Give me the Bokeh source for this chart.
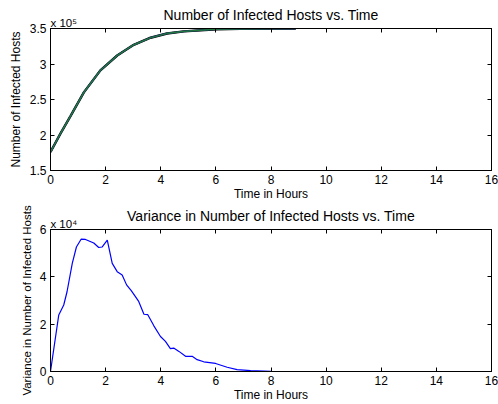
from bokeh.plotting import figure
from bokeh.layouts import column
from bokeh.models import LinearAxis, FixedTicker, Range1d, CustomJSTickFormatter
from bokeh.embed import file_html
from bokeh.resources import INLINE

# ---- data ----
t_inf = [0.0, 0.36, 0.73, 1.21, 1.81, 2.42, 3.02, 3.63, 4.23, 4.84, 6.05, 6.9, 8.9]
infected = [1.76e5, 2.02e5, 2.27e5, 2.60e5, 2.91e5, 3.12e5, 3.27e5, 3.37e5, 3.43e5,
            3.46e5, 3.49e5, 3.495e5, 3.5e5]

t_var = [0.0, 0.30, 0.48, 0.60, 0.79, 0.94, 1.11, 1.27, 1.57, 1.75, 1.87, 2.06, 2.24,
         2.42, 2.60, 2.76, 2.93, 3.20, 3.39, 3.53, 3.75, 3.99, 4.17, 4.35, 4.47, 4.66,
         4.90, 5.14, 5.32, 5.56, 5.99, 6.41, 6.77, 7.26, 8.0, 9.0, 16.0]
variance = [0.0, 2.39e4, 2.81e4, 3.37e4, 4.57e4, 5.26e4, 5.59e4, 5.58e4, 5.43e4, 5.24e4,
            5.26e4, 5.55e4, 4.57e4, 4.22e4, 4.08e4, 3.66e4, 3.42e4, 2.96e4, 2.42e4,
            2.40e4, 1.93e4, 1.48e4, 1.27e4, 0.97e4, 0.99e4, 0.85e4, 0.64e4, 0.64e4,
            0.50e4, 0.41e4, 0.34e4, 0.18e4, 0.08e4, 0.04e4, 0.01e4, 0.0, 0.0]

x_ticks = [0, 2, 4, 6, 8, 10, 12, 14, 16]
y1_ticks = [1.5e5, 2.0e5, 2.5e5, 3.0e5, 3.5e5]
y1_labels = ["1.5", "2", "2.5", "3", "3.5"]
y1_exp = "x 10\u2075"
y2_ticks = [0, 2e4, 4e4, 6e4]
y2_labels = ["0", "2", "4", "6"]
y2_exp = "x 10\u2074"

FONT = "Liberation Sans"


def style(p, yt, yl, ylabel, title, ylabel_size, exp_text):
    p.title.visible = False
    p.xgrid.visible = False
    p.ygrid.visible = False
    p.outline_line_color = "black"
    p.outline_line_width = 1
    p.background_fill_color = "white"
    p.border_fill_color = "white"

    xa = p.xaxis[0]
    xa.ticker = FixedTicker(ticks=x_ticks)
    xa.axis_label = "Time in Hours"
    ya = p.yaxis[0]
    ya.ticker = FixedTicker(ticks=yt)
    ya.major_label_overrides = {v: s for v, s in zip(yt, yl)}
    ya.axis_label = ylabel
    for ax in (xa, ya):
        ax.axis_label_text_font = FONT
        ax.axis_label_text_font_size = "12px"
        ax.axis_label_text_font_style = "normal"
        ax.axis_label_text_color = "black"
        ax.major_label_text_font = FONT
        ax.major_label_text_font_size = "12px"
        ax.major_label_text_color = "black"
        ax.major_tick_in = 4
        ax.major_tick_out = 0
        ax.minor_tick_in = 0
        ax.minor_tick_out = 0
        ax.major_tick_line_color = "black"
        ax.axis_line_color = "black"
        ax.major_label_standoff = 4
    ya.axis_label_text_font_size = ylabel_size
    xa.axis_label_standoff = 0
    ya.axis_label_standoff = 4

    top = LinearAxis(ticker=FixedTicker(ticks=x_ticks),
                     formatter=CustomJSTickFormatter(code="return ''"))
    right = LinearAxis(ticker=FixedTicker(ticks=yt),
                       formatter=CustomJSTickFormatter(code="return ''"))
    for ax in (top, right):
        ax.major_label_standoff = 0
        ax.major_tick_in = 4
        ax.major_tick_out = 0
        ax.minor_tick_in = 0
        ax.minor_tick_out = 0
        ax.axis_line_color = "black"
        ax.major_tick_line_color = "black"
    p.add_layout(top, "above")
    p.add_layout(right, "right")

    # the "x 10^n" multiplier above the left end of the frame, and the title above it
    exp_axis = LinearAxis(ticker=FixedTicker(ticks=[0.48]),
                          formatter=CustomJSTickFormatter(code="return '%s'" % exp_text))
    exp_axis.axis_line_color = None
    exp_axis.major_tick_line_color = None
    exp_axis.minor_tick_line_color = None
    exp_axis.major_tick_in = 0
    exp_axis.major_tick_out = 0
    exp_axis.minor_tick_in = 0
    exp_axis.minor_tick_out = 0
    exp_axis.major_label_standoff = 0
    exp_axis.major_label_text_font = FONT
    exp_axis.major_label_text_font_size = "11.5px"
    exp_axis.major_label_text_color = "black"
    exp_axis.axis_label = title
    exp_axis.axis_label_standoff = -9
    exp_axis.axis_label_text_font = FONT
    exp_axis.axis_label_text_font_size = "14px"
    exp_axis.axis_label_text_font_style = "normal"
    exp_axis.axis_label_text_color = "black"
    p.add_layout(exp_axis, "above")


p1 = figure(width=498, height=204, output_backend="svg", toolbar_location=None,
            x_range=Range1d(0, 16), y_range=Range1d(1.5e5, 3.5e5),
            min_border_left=50, min_border_right=7, min_border_top=28, min_border_bottom=34)
style(p1, y1_ticks, y1_labels, "Number of Infected Hosts",
      "Number of Infected Hosts vs. Time", "12px", y1_exp)
p1.line(t_inf, infected, line_color="black", line_width=2.4)
p1.line(t_inf, infected, line_color="#1f3f6f", line_width=1.8)
p1.line(t_inf, infected, line_color="#217a3c", line_width=1.2)

p2 = figure(width=498, height=200, output_backend="svg", toolbar_location=None,
            x_range=Range1d(0, 16), y_range=Range1d(0, 6e4),
            min_border_left=50, min_border_right=7, min_border_top=25, min_border_bottom=32)
style(p2, y2_ticks, y2_labels, "Variance in Number of Infected Hosts",
      "Variance in Number of Infected Hosts vs. Time", "11.5px", y2_exp)
p2.line(t_var, variance, line_color="#0000ff", line_width=1.2)

layout = column(p1, p2, spacing=0)
open("out.html", "w").write(file_html(layout, INLINE))
